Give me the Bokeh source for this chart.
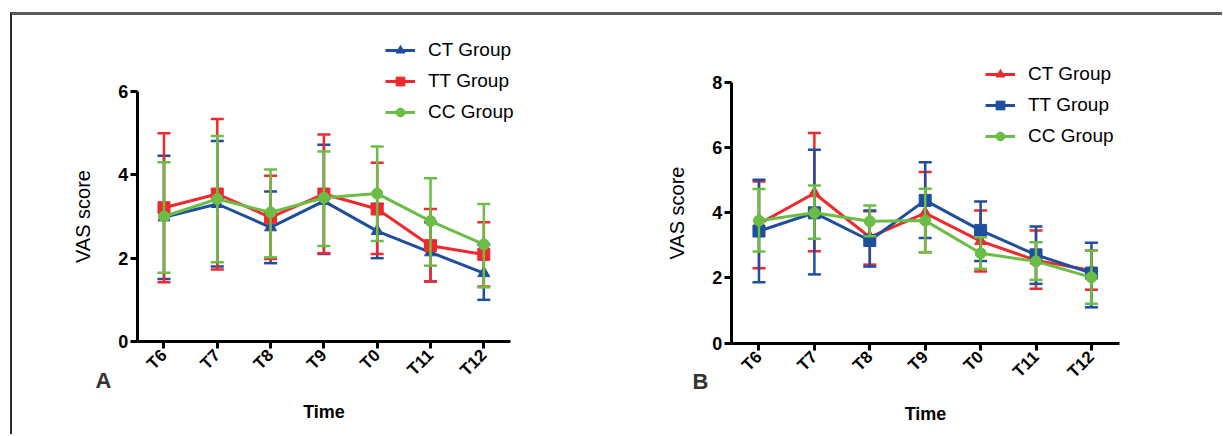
from bokeh.plotting import figure
from bokeh.layouts import row
from bokeh.models import (Range1d, Legend, LegendItem, Label, FixedTicker,
                          ColumnDataSource)
from bokeh.embed import file_html
from bokeh.resources import INLINE
import math

# ---------------- data ----------------
times = ["T6", "T7", "T8", "T9", "T0", "T11", "T12"]

# Panel A
a_ct_mean = [2.98, 3.30, 2.74, 3.37, 2.65, 2.14, 1.64]
a_ct_upper = [4.46, 4.81, 3.60, 4.72, 3.30, 2.86, 2.33]
a_ct_lower = [1.50, 1.80, 1.88, 2.10, 2.00, 1.44, 1.00]

a_tt_mean = [3.21, 3.54, 2.98, 3.54, 3.18, 2.30, 2.09]
a_tt_upper = [5.00, 5.34, 3.98, 4.97, 4.29, 3.18, 2.86]
a_tt_lower = [1.42, 1.73, 1.98, 2.12, 2.10, 1.44, 1.32]

a_cc_mean = [3.00, 3.42, 3.10, 3.45, 3.55, 2.89, 2.33]
a_cc_upper = [4.30, 4.93, 4.13, 4.56, 4.68, 3.92, 3.30]
a_cc_lower = [1.65, 1.90, 2.02, 2.29, 2.41, 1.82, 1.30]

# Panel B
b_ct_mean = [3.66, 4.60, 3.25, 3.99, 3.13, 2.54, 2.23]
b_ct_upper = [4.96, 6.45, 4.05, 5.25, 4.07, 3.46, 2.84]
b_ct_lower = [2.30, 2.82, 2.41, 2.79, 2.20, 1.67, 1.64]

b_tt_mean = [3.44, 4.00, 3.15, 4.38, 3.46, 2.71, 2.15]
b_tt_upper = [5.01, 5.93, 4.07, 5.55, 4.35, 3.58, 3.08]
b_tt_lower = [1.87, 2.11, 2.35, 3.23, 2.52, 1.82, 1.10]

b_cc_mean = [3.76, 4.00, 3.74, 3.76, 2.76, 2.51, 2.02]
b_cc_upper = [4.73, 4.84, 4.22, 4.74, 3.25, 3.10, 2.84]
b_cc_lower = [2.81, 3.20, 3.28, 2.79, 2.28, 1.94, 1.21]

series_labels = ["CT Group", "TT Group", "CC Group"]

BLUE = "#1f4e9f"
RED = "#ee2a2e"
GREEN = "#6bbd45"
FONT = "Liberation Sans"


def make_panel(width, height, xr, yr, ymax, yticks, series, legend_xy, letter, letter_xy):
    idx = list(range(len(times)))
    p = figure(width=width, height=height, x_range=Range1d(*xr), y_range=Range1d(*yr),
               output_backend="svg", toolbar_location=None,
               min_border=0, min_border_left=0, min_border_right=0,
               min_border_top=0, min_border_bottom=0)
    p.outline_line_color = None
    p.grid.visible = False
    p.background_fill_color = "white"
    p.border_fill_color = "white"

    for ax in (p.xaxis[0], p.yaxis[0]):
        ax.axis_line_width = 3
        ax.axis_line_color = "black"
        ax.major_tick_line_width = 3
        ax.major_tick_line_color = "black"
        ax.major_tick_out = 7
        ax.major_tick_in = 0
        ax.minor_tick_line_color = None
        ax.major_label_text_font = FONT
        ax.major_label_text_font_style = "bold"
        ax.major_label_text_color = "black"
        ax.axis_label_text_font = FONT
        ax.axis_label_text_color = "black"

    p.yaxis.fixed_location = -0.5
    p.yaxis.bounds = (0, ymax)
    p.yaxis.ticker = FixedTicker(ticks=yticks)
    p.yaxis.major_label_text_font_size = "18px"
    p.yaxis.major_label_standoff = 2
    p.yaxis.axis_label = "VAS score"
    p.yaxis.axis_label_text_font_style = "normal"
    p.yaxis.axis_label_text_font_size = "20px"
    p.yaxis.axis_label_standoff = 21

    p.xaxis.fixed_location = 0
    p.xaxis.bounds = (-0.5, len(times) - 0.5)
    p.xaxis.ticker = FixedTicker(ticks=idx)
    p.xaxis.major_label_overrides = {i: t for i, t in enumerate(times)}
    p.xaxis.major_label_orientation = math.pi / 4
    p.xaxis.major_label_text_font_size = "17px"
    p.xaxis.major_label_standoff = 4
    p.xaxis.axis_label = "Time"
    p.xaxis.axis_label_text_font_style = "bold"
    p.xaxis.axis_label_text_font_size = "18px"
    p.xaxis.axis_label_standoff = 12

    items = []
    for label, color, marker, msize, mean, upper, lower in series:
        src = ColumnDataSource(dict(x=idx, m=mean, u=upper, l=lower))
        p.segment(x0="x", y0="l", x1="x", y1="u", source=src,
                  line_color=color, line_width=2.5)
        p.scatter(x="x", y="u", source=src, marker="dash", size=13,
                  line_color=color, line_width=2.5)
        p.scatter(x="x", y="l", source=src, marker="dash", size=13,
                  line_color=color, line_width=2.5)
        ln = p.line(x="x", y="m", source=src, line_color=color, line_width=3)
        sc = p.scatter(x="x", y="m", source=src, marker=marker, size=msize,
                       fill_color=color, line_color=color)
        items.append((label, [ln, sc]))

    order = {lab: i for i, lab in enumerate(series_labels)}
    items.sort(key=lambda it: order[it[0]])
    legend = Legend(items=[LegendItem(label=l, renderers=r) for l, r in items],
                    location=legend_xy, orientation="vertical")
    legend.label_text_font = FONT
    legend.label_text_font_size = "19px"
    legend.label_text_color = "black"
    legend.glyph_width = 30
    legend.glyph_height = 22
    legend.label_height = 22
    legend.spacing = 9
    legend.label_standoff = 13
    legend.padding = 0
    legend.margin = 0
    legend.border_line_color = None
    legend.background_fill_alpha = 0
    p.add_layout(legend, "center")

    p.add_layout(Label(x=letter_xy[0], y=letter_xy[1], text=letter,
                       text_font=FONT, text_font_style="bold", text_font_size="22px",
                       text_color="#333333", text_align="center",
                       text_baseline="middle"))
    return p


pA = make_panel(
    618, 419, (-2.842, 8.752), (-2.232, 7.824), 6, [0, 2, 4, 6],
    [("CT Group", BLUE, "triangle", 12, a_ct_mean, a_ct_upper, a_ct_lower),
     ("TT Group", RED, "square", 12, a_tt_mean, a_tt_upper, a_tt_lower),
     ("CC Group", GREEN, "circle", 11, a_cc_mean, a_cc_upper, a_cc_lower)],
    (373, 311), "A", (-1.135, -0.936))

pB = make_panel(
    592, 419, (-2.319, 8.366), (-2.801, 10.052), 8, [0, 2, 4, 6, 8],
    [("CT Group", RED, "triangle", 12, b_ct_mean, b_ct_upper, b_ct_lower),
     ("TT Group", BLUE, "square", 12, b_tt_mean, b_tt_upper, b_tt_lower),
     ("CC Group", GREEN, "circle", 11, b_cc_mean, b_cc_upper, b_cc_lower)],
    (355, 287), "B", (-1.056, -1.175))

layout = row(pA, pB, margin=(12, 0, 0, 10),
             styles={"border-top": "3px solid #5c5c5c", "border-left": "2px solid #2a2a2a"})

open("out.html", "w").write(file_html(layout, INLINE))
